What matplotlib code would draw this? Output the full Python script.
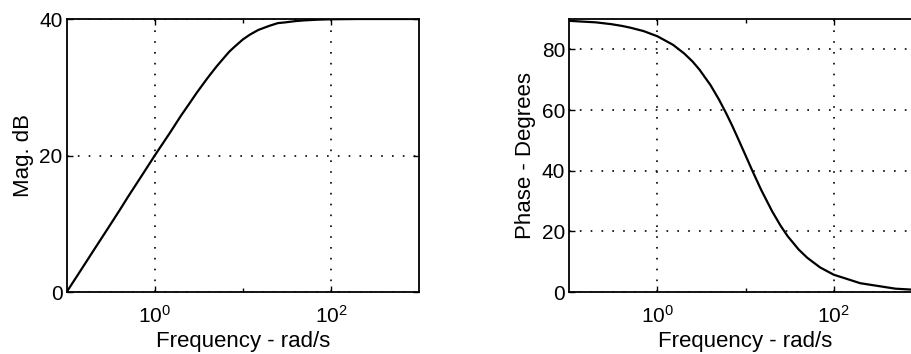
import matplotlib
matplotlib.use("Agg")
import matplotlib.pyplot as plt
from matplotlib.ticker import NullFormatter

# values (rad/s, dB, degrees)
freq = [0.1, 0.15, 0.2, 0.3, 0.4, 0.5, 0.7, 1, 1.5, 2, 2.5, 3, 4, 5, 6, 7,
        8, 10, 12, 15, 20, 25, 30, 40, 50, 70, 100, 200, 500, 1000]
mag_db = [0.0, 3.5, 6.0, 9.5, 12.0, 14.0, 16.9, 20.0, 23.4, 25.9, 27.7,
          29.2, 31.4, 33.0, 34.2, 35.2, 35.9, 37.0, 37.7, 38.4, 39.0, 39.4,
          39.5, 39.7, 39.8, 39.9, 39.96, 40.0, 40.0, 40.0]
phase_deg = [89.4, 89.1, 88.9, 88.3, 87.7, 87.1, 86.0, 84.3, 81.5, 78.7,
             76.0, 73.3, 68.2, 63.4, 59.0, 55.0, 51.3, 45.0, 39.8, 33.7,
             26.6, 21.8, 18.4, 14.0, 11.3, 8.1, 5.7, 2.9, 1.1, 0.6]

xticks = [1, 100]
mag_yticks = [0, 20, 40]
phase_yticks = [0, 20, 40, 60, 80]

plt.rcParams['font.family'] = ['Liberation Sans', 'DejaVu Sans']
plt.rcParams['mathtext.fontset'] = 'custom'
plt.rcParams['mathtext.rm'] = 'Liberation Sans'
plt.rcParams['mathtext.it'] = 'Liberation Sans'

fig = plt.figure(figsize=(9.12, 3.54), dpi=100)
ax1 = fig.add_axes([0.0731, 0.1751, 0.3863, 0.7712])
ax2 = fig.add_axes([0.6242, 0.1751, 0.3867, 0.7712])


def style(ax, yticks, ylim):
    ax.set_xscale("log")
    ax.set_xlim(0.1, 1000)
    ax.set_ylim(*ylim)
    ax.set_xticks(xticks)
    ax.set_xticks([10], minor=True)
    ax.xaxis.set_minor_formatter(NullFormatter())
    ax.set_yticks(yticks)
    ax.tick_params(which="both", direction="in", top=True, right=True,
                   length=4, width=1, labelsize=15, pad=3)
    ax.tick_params(axis="x", which="major", pad=9)
    ax.tick_params(which="minor", length=3)
    ax.grid(True, which="major", linestyle=(0, (1, 5.5)), color="black",
            linewidth=1.2)
    for s in ax.spines.values():
        s.set_linewidth(1.3)
    ax.set_xlabel("Frequency - rad/s", fontsize=16, labelpad=3)


ax1.plot(freq, mag_db, color="black", linewidth=1.6)
style(ax1, mag_yticks, (0, 40))
ax1.set_ylabel("Mag. dB", fontsize=16, labelpad=4)

ax2.plot(freq, phase_deg, color="black", linewidth=1.6)
style(ax2, phase_yticks, (0, 90))
ax2.set_ylabel("Phase - Degrees", fontsize=16, labelpad=4)

fig.savefig("out.png", dpi=100)
